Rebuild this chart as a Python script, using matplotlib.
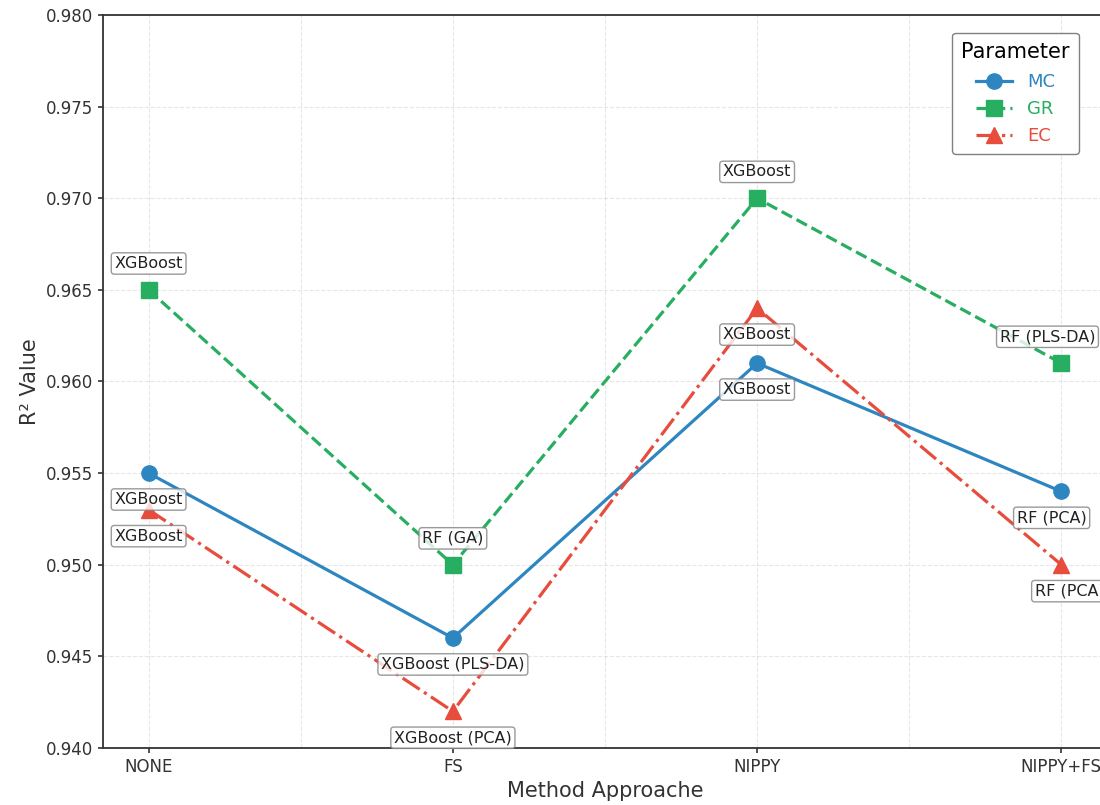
import matplotlib.pyplot as plt
from matplotlib.ticker import MultipleLocator

# Data
methods = ['NONE', 'FS', 'NIPPY', 'NIPPY+FS']
params = ['MC', 'GR', 'EC']
mc_values = [0.955, 0.946, 0.961, 0.954]
gr_values = [0.965, 0.950, 0.970, 0.961]
ec_values = [0.953, 0.942, 0.964, 0.950]
mc_models = ['XGBoost', 'XGBoost (PLS-DA)', 'XGBoost', 'RF (PCA)']
gr_models = ['XGBoost', 'RF (GA)', 'XGBoost', 'RF (PLS-DA)']
ec_models = ['XGBoost', 'XGBoost (PCA)', 'XGBoost', 'RF (PCA)']

colors = {'MC': '#2e86c1', 'GR': '#27ae60', 'EC': '#e74c3c'}
styles = {'MC': ('-', 'o'), 'GR': ('--', 's'), 'EC': ('-.', '^')}
# label offsets in points (GR above, MC/EC below)
offsets = {'MC': -19, 'GR': 19, 'EC': -19}
# small horizontal nudges for the labels at the last method
last_dx = {'MC': -7, 'GR': -10, 'EC': 6}

series = {'MC': (mc_values, mc_models),
          'GR': (gr_values, gr_models),
          'EC': (ec_values, ec_models)}

fig = plt.figure(figsize=(11, 8.05), dpi=100)
ax = fig.add_axes([103 / 1100, 57 / 805, 1004 / 1100, 733 / 805])

x = list(range(len(methods)))

for p in params:
    vals, models = series[p]
    ls, mk = styles[p]
    ax.plot(x, vals, linestyle=ls, marker=mk, color=colors[p], linewidth=2.3,
            markersize=11, label=p)

for p in params:
    vals, models = series[p]
    for xi, v, m in zip(x, vals, models):
        dx = last_dx[p] if xi == x[-1] else 0
        ax.annotate(m, (xi, v), xytext=(dx, offsets[p]), textcoords='offset points',
                    ha='center', va='center', fontsize=11.5, color='#222222',
                    bbox=dict(boxstyle='round,pad=0.2', fc='white', ec='gray', alpha=0.8),
                    zorder=5)

ax.set_xlim(-0.15, 3.15)
ax.set_ylim(0.940, 0.980)
ax.yaxis.set_major_locator(MultipleLocator(0.005))
ax.set_xticks(x)
ax.set_xticklabels(methods)
ax.xaxis.set_minor_locator(MultipleLocator(0.5))
ax.tick_params(axis='x', which='minor', length=0)
ax.tick_params(axis='both', which='major', labelsize=12, colors='#333333', width=1.2)

for s in ax.spines.values():
    s.set_color('#333333')
    s.set_linewidth(1.3)

ax.grid(True, which='both', linestyle='--', alpha=0.3)

ax.set_xlabel('Method Approache', fontsize=15, color='#333333')
ax.set_ylabel('R² Value', fontsize=15, color='#333333')

leg = ax.legend(title='Parameter', loc='upper right', bbox_to_anchor=(0.981, 0.988),
                fontsize=13, title_fontsize=15, framealpha=1, edgecolor='gray',
                labelspacing=0.5, borderpad=0.5)
leg._legend_box.sep = 8
for txt, p in zip(leg.get_texts(), params):
    txt.set_color(colors[p])

fig.savefig('out.png', dpi=100)
